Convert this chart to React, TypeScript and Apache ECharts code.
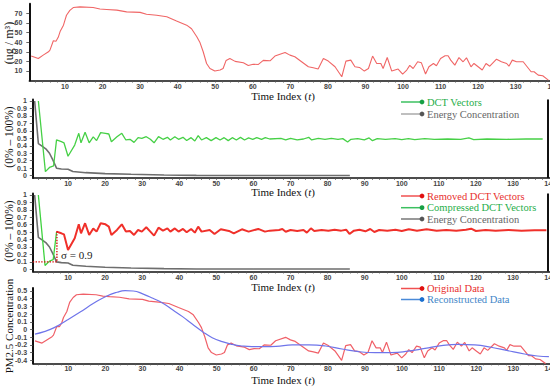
import React, { useEffect, useRef } from 'react';
import * as echarts from 'echarts';

// ---------- data ----------
// Panel 1: PM2.5 (ug/m3) against time index t
const pm25Readings: [number, number][] = [
  [1, 25.5], [2.9, 23], [4.2, 26.5], [5.6, 30], [6, 31.7], [6.9, 41.4], [7.6, 41], [8.2, 45], [8.7, 51],
  [9.6, 57.7], [10, 63], [10.4, 68], [11.3, 73], [12.2, 76], [14, 76.7], [17.5, 76], [19.3, 74.5], [21.1, 74],
  [23.8, 73.3], [26.4, 71.5], [30, 71], [31.7, 69], [34.4, 68], [37.1, 66.4], [39.7, 62], [42.4, 57.7],
  [43.7, 54], [45.1, 45.6], [45.9, 40], [46.8, 30], [47.7, 17.8], [48.6, 12.6], [49.9, 9.9], [51.3, 11],
  [52.1, 12.6], [52.9, 21], [53.9, 23], [55.3, 20], [57.5, 18.5], [58.8, 15.8], [60.1, 17], [61.5, 16.8],
  [62.8, 21], [64.6, 20.6], [65.9, 25.5], [68.6, 29.3], [69.9, 26.5], [71.2, 24.8], [73, 19.6], [74.8, 14.4],
  [76.1, 13.3], [77.4, 12], [78.8, 23], [80.1, 20.3], [81.9, 14.4], [83.7, 4], [84.8, 20.3], [86.1, 21.3],
  [87.2, 14.4], [88.4, 13.7], [89.7, 9.9], [90.8, 12.6], [91.9, 25.5], [93, 17.8], [94.1, 17.8], [94.7, 12.6],
  [95.8, 24], [97, 9.9], [98.7, 12], [99.9, 6.8], [101, 11], [101.8, 15.8], [102.7, 12.6], [103.9, 19.6],
  [104.9, 18.5], [106, 6.8], [106.9, 14.4], [108.1, 17.8], [108.9, 15.4], [110, 23], [111.2, 25.8], [112, 25.8],
  [112.7, 21.3], [113.8, 16.1], [114.9, 24], [116, 19.6], [116.9, 23.7], [118.1, 14.4], [118.9, 17.8],
  [120, 14.4], [121.1, 11], [122.1, 17.8], [123.1, 15], [124.9, 22.3], [126.2, 19.6], [127.6, 17.8],
  [128.2, 15], [129.1, 21.3], [130.2, 19.6], [132, 19.6], [134.1, 9.2], [134.9, 9.2], [136, 5.7], [137.2, 5],
  [138.7, 0.5],
];

// Panel 2: DCT vectors and energy concentration (0..1)
const dctVectors: [number, number][] = [
  [2, 1.0], [3.9, 0.054], [5, 0.11], [6.1, 0.13], [6.9, 0.48], [8.2, 0.455], [8.9, 0.44], [10, 0.26],
  [11.8, 0.41], [12.9, 0.567], [13.5, 0.44], [14.6, 0.58], [15.7, 0.44], [16.8, 0.52], [17.7, 0.47],
  [18.8, 0.576], [20.1, 0.567], [21, 0.558], [21.7, 0.455], [23.2, 0.52], [24.5, 0.567], [25.6, 0.478],
  [26.7, 0.487], [27.8, 0.446], [28.9, 0.509], [29.9, 0.5], [31.1, 0.522], [32.2, 0.487], [33.2, 0.44],
  [34.4, 0.522], [35.6, 0.487], [36.8, 0.513], [37.6, 0.478], [38.8, 0.522], [39.8, 0.487], [41, 0.513],
  [42, 0.47], [43.2, 0.509], [44.2, 0.464], [45.1, 0.536], [46, 0.478], [47.3, 0.509], [48.6, 0.469],
  [49.9, 0.509], [51, 0.478], [52.1, 0.509], [53.2, 0.469], [54.3, 0.509], [55.4, 0.478], [56.5, 0.513],
  [57.6, 0.478], [58.7, 0.505], [59.8, 0.487], [60.9, 0.509], [62.2, 0.487], [63.2, 0.509], [64.4, 0.491],
  [67.4, 0.5], [68.7, 0.478], [70, 0.5], [71.8, 0.478], [73.5, 0.491], [74.9, 0.513], [75.7, 0.478],
  [77.5, 0.5], [79.3, 0.487], [81, 0.5], [82.8, 0.487], [84.1, 0.496], [85.4, 0.451], [86.3, 0.487],
  [88.1, 0.496], [89.9, 0.478], [91.2, 0.505], [92.1, 0.469], [93.4, 0.496], [95.6, 0.487], [98.2, 0.496],
  [100, 0.482], [101.8, 0.496], [103.5, 0.482], [106.2, 0.496], [108.8, 0.487], [112.4, 0.491],
  [115.9, 0.487], [118.1, 0.505], [119.4, 0.482], [123, 0.491], [128.3, 0.487], [133.5, 0.491], [138, 0.491],
];

const energyConcentration: [number, number][] = [
  [1, 1.0], [2, 0.43], [2.9, 0.4], [4, 0.36], [5, 0.3], [6, 0.2], [6.9, 0.1], [8.2, 0.09], [10, 0.085],
  [11.3, 0.055], [14.8, 0.04], [20, 0.027], [27, 0.018], [35.9, 0.009], [44.6, 0.004], [60, 0.003], [86, 0.003],
];

// Panel 3: removed / compressed DCT vectors
const removedDct: [number, number][] = [
  [6.9, 0.507], [8.2, 0.484], [8.9, 0.47], [10, 0.26], [11.8, 0.417], [12.9, 0.605], [13.5, 0.484],
  [14.6, 0.62], [15.7, 0.462], [16.8, 0.55], [17.7, 0.507], [18.8, 0.62], [20.1, 0.605], [21, 0.574],
  [21.7, 0.462], [23.2, 0.529], [24.5, 0.605], [25.6, 0.507], [26.7, 0.516], [27.8, 0.462], [28.9, 0.529],
  [29.9, 0.507], [31.1, 0.565], [32.2, 0.507], [33.2, 0.453], [34.4, 0.56], [35.6, 0.52], [36.8, 0.55],
  [37.6, 0.507], [38.8, 0.55], [39.8, 0.507], [41, 0.543], [42, 0.498], [43.2, 0.543], [44.2, 0.493],
  [45.1, 0.574], [46, 0.507], [48.2, 0.53], [49.5, 0.475], [51.2, 0.538], [53.4, 0.516], [54.7, 0.484],
  [56.9, 0.538], [58.7, 0.507], [61.3, 0.543], [63.1, 0.507], [64.4, 0.52], [66.9, 0.529], [67.8, 0.542],
  [68.7, 0.506], [70, 0.529], [71.8, 0.515], [73.5, 0.529], [74.4, 0.493], [75.5, 0.551], [76.4, 0.515],
  [78.4, 0.529], [80.2, 0.52], [81.9, 0.533], [83.7, 0.52], [85, 0.533], [85.9, 0.475], [87.1, 0.52],
  [88.6, 0.533], [90.2, 0.511], [91.5, 0.542], [92.6, 0.502], [93.9, 0.529], [96.1, 0.52], [98.3, 0.533],
  [100, 0.515], [101.9, 0.538], [104.1, 0.52], [106.7, 0.538], [109.4, 0.52], [112, 0.529], [114.7, 0.52],
  [117.3, 0.533], [118.7, 0.546], [120, 0.515], [122.6, 0.529], [125.3, 0.52], [128.8, 0.529],
  [132.3, 0.52], [135.8, 0.524], [139, 0.524],
];

const compressedDct: [number, number][] = [
  [2, 1.0], [3.8, 0.05], [5, 0.11], [6, 0.13], [6.9, 0.5],
];

const sigmaGuide: [number, number][] = [[0.5, 0.1], [7, 0.1], [7, 0.52]];

// Panel 4: reconstructed (normalised) PM2.5
const reconstructed: [number, number][] = [
  [1, -0.06], [3.5, -0.028], [6.2, 0.024], [9.7, 0.123], [13.3, 0.23], [16.8, 0.34], [20.4, 0.435],
  [23.1, 0.483], [25.3, 0.504], [27.5, 0.5], [30.2, 0.46], [32.8, 0.405], [35.5, 0.34], [38.2, 0.253],
  [40.8, 0.167], [43.5, 0.067], [46.2, -0.028], [48.8, -0.106], [51.5, -0.158], [54.2, -0.193],
  [56.8, -0.214], [59.5, -0.223], [63.1, -0.223], [66, -0.22], [70.4, -0.2], [74.9, -0.2], [79.4, -0.214],
  [83.8, -0.253], [88.3, -0.288], [92.8, -0.3], [97.2, -0.3], [101.7, -0.28], [106.2, -0.245],
  [110.6, -0.21], [115.1, -0.193], [119.6, -0.2], [124, -0.23], [128.5, -0.275], [133, -0.318],
  [136.5, -0.344], [139.6, -0.353],
];
// normalisation of the original series shown in the bottom panel
const PM_CENTER = 37.9;
const PM_RANGE = 84.5;

const xTickLabels = [10, 20, 30, 40, 50, 60, 70, 80, 90, 100, 110, 120, 130, 140];
const pmTickLabels = [10, 20, 30, 40, 50, 60, 70];
const ratioTickLabels = [0, 0.1, 0.2, 0.3, 0.4, 0.5, 0.6, 0.7, 0.8, 0.9, 1];
const normTickLabels = [-0.4, -0.3, -0.2, -0.1, 0, 0.1, 0.2, 0.3, 0.4, 0.5];

const SERIF = '"Liberation Serif", "Times New Roman", serif';
const SANS = '"Liberation Sans", Arial, sans-serif';

export default function App() {
  const ref = useRef<HTMLDivElement>(null);

  useEffect(() => {
    if (!ref.current) return;
    const chart = echarts.init(ref.current, undefined, { renderer: 'svg' });

    const minorTicks: number[] = [];
    for (let t = 2; t <= 140; t += 2) minorTicks.push(t);

    const fmt1 = (v: number) => String(Math.round(v * 10) / 10);

    const xAxis = (gridIndex: number) => ({
      type: 'value', gridIndex, min: 0.5, max: 141,
      axisLine: { show: true, onZero: false, lineStyle: { color: '#111', width: 1.5 } },
      axisTick: { show: true, customValues: minorTicks, length: 2, lineStyle: { color: '#555', width: 0.8 } },
      axisLabel: {
        customValues: xTickLabels, fontSize: 7, fontWeight: 'bold', fontFamily: SANS, color: '#444', margin: 2,
        hideOverlap: false,
      },
      splitLine: { show: false },
    });

    const yAxis = (gridIndex: number, min: number, max: number, labels: number[], margin: number) => ({
      type: 'value', gridIndex, min, max,
      axisLine: { show: true, onZero: false, lineStyle: { color: '#111', width: 2 } },
      axisTick: { show: true, customValues: labels, length: 3, lineStyle: { color: '#444', width: 0.8 } },
      axisLabel: {
        customValues: labels, formatter: fmt1, fontSize: 7, fontWeight: 'bold', fontFamily: SANS,
        color: '#444', margin,
      },
      splitLine: { show: false },
    });

    const line = (xi: number, data: [number, number][], color: string, width: number, extra: any = {}) => ({
      type: 'line', xAxisIndex: xi, yAxisIndex: xi, data, showSymbol: false, symbol: 'none',
      silent: true, lineStyle: { color, width }, ...extra,
    });

    const rightBorder = {
      silent: true, symbol: ['none', 'none'], label: { show: false },
      lineStyle: { color: '#111', width: 2, type: 'solid' },
      data: [{ xAxis: 139.5 }],
    };

    const timeTitle = (y: number) => ({
      type: 'text', x: 283, y,
      style: {
        text: 'Time Index ({i|t})', fill: '#111', fontSize: 11, fontFamily: SERIF,
        align: 'center', verticalAlign: 'middle',
        rich: { i: { fontStyle: 'italic', fontSize: 11, fontFamily: SERIF, fill: '#111' } },
      },
    });

    const yTitle = (y: number, text: string, size: number) => ({
      type: 'text', x: 9, y, rotation: Math.PI / 2,
      style: { text, fill: '#111', fontSize: size, fontFamily: SERIF, align: 'center', verticalAlign: 'middle' },
    });

    const legendItem = (y: number, lineColor: string, dotColor: string, text: string, textColor: string) => [
      { type: 'line', shape: { x1: 401, y1: y, x2: 422, y2: y }, style: { stroke: lineColor, lineWidth: 1.5 } },
      { type: 'circle', shape: { cx: 422, cy: y, r: 2.4 }, style: { fill: dotColor } },
      {
        type: 'text', x: 427, y,
        style: { text, fill: textColor, fontSize: 10.5, fontFamily: SERIF, verticalAlign: 'middle' },
      },
    ];

    const original = pm25Readings.map(([t, v]) => [t, (v - PM_CENTER) / PM_RANGE] as [number, number]);

    const gridBase = { containLabel: false, outerBoundsMode: 'none' };

    chart.setOption({
      animation: false,
      backgroundColor: '#fff',
      grid: [
        { ...gridBase, left: 29.3, top: 3.7, width: 527.7, height: 76.9 },
        { ...gridBase, left: 32.8, top: 99.5, width: 521, height: 78.4 },
        { ...gridBase, left: 32.8, top: 193.5, width: 521, height: 78 },
        { ...gridBase, left: 33.1, top: 287.9, width: 521, height: 75.5 },
      ],
      xAxis: [xAxis(0), xAxis(1), xAxis(2), xAxis(3)],
      yAxis: [
        yAxis(0, 0, 80, pmTickLabels, 7),
        yAxis(1, -0.03, 1.02, ratioTickLabels, 6),
        yAxis(2, -0.03, 1.02, ratioTickLabels, 6),
        yAxis(3, -0.44, 0.54, normTickLabels, 6),
      ],
      series: [
        line(0, pm25Readings, '#f06666', 1.1),
        line(1, energyConcentration, '#6e6e6e', 1.6, { markLine: rightBorder }),
        line(1, dctVectors, '#46d046', 1.3),
        line(2, energyConcentration, '#6e6e6e', 1.6, { markLine: rightBorder }),
        line(2, compressedDct, '#3fd23f', 1.3),
        line(2, removedDct, '#f0302a', 2),
        line(2, sigmaGuide, '#d81010', 1.4, { lineStyle: { color: '#d81010', width: 1.4, type: 'dotted' } }),
        line(3, original, '#f06068', 1.2),
        line(3, reconstructed, '#6f75ea', 1.2, { smooth: true }),
      ],
      graphic: [
        timeTitle(95.5),
        timeTitle(192),
        timeTitle(286.5),
        timeTitle(379.5),
        yTitle(43, '(ug / m³)', 12),
        yTitle(137, '(0% – 100%)', 11.5),
        yTitle(231, '(0% – 100%)', 11.5),
        yTitle(326, 'PM2.5 Concentration', 11),
        {
          type: 'text', x: 61, y: 255,
          style: { text: 'σ = 0.9', fill: '#222', fontSize: 11, fontFamily: SERIF, verticalAlign: 'middle' },
        },
        ...legendItem(102, '#3cc060', '#16a044', 'DCT Vectors', '#1fae4a'),
        ...legendItem(114, '#aaaaaa', '#555555', 'Energy Concentration', '#666666'),
        ...legendItem(196, '#f05050', '#e01010', 'Removed DCT Vectors', '#e8302e'),
        ...legendItem(207.7, '#3cc060', '#16a044', 'Compressed DCT Vectors', '#1fae4a'),
        ...legendItem(219, '#777777', '#555555', 'Energy Concentration', '#666666'),
        ...legendItem(288.5, '#f05050', '#e01010', 'Original Data', '#e8302e'),
        ...legendItem(299.5, '#4a8ad8', '#1a6fd0', 'Reconstructed Data', '#3f86c8'),
      ],
    });

    return () => chart.dispose();
  }, []);

  return (
    <div
      ref={ref}
      style={{ position: 'absolute', left: 0, top: 0, width: 550, height: 389, background: '#fff' }}
    />
  );
}
